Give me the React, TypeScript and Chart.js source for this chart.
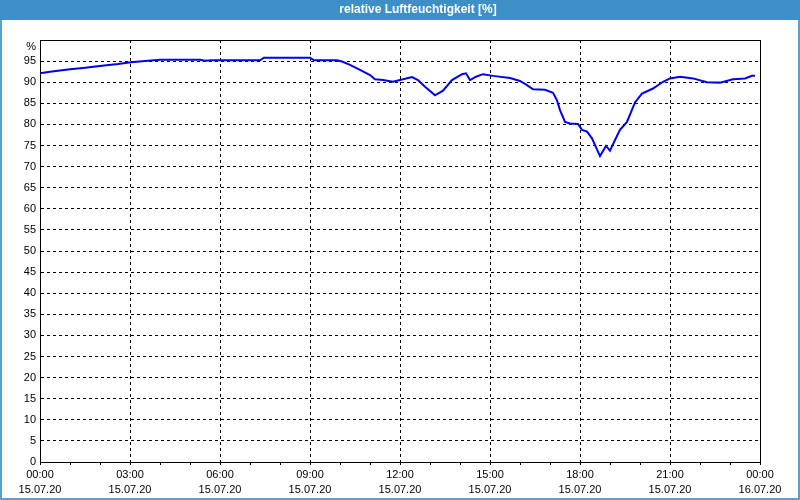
import React, { useEffect, useRef } from "react";
import { Chart, registerables } from "chart.js";

Chart.register(...registerables);

const titleText = "relative Luftfeuchtigkeit [%]";

const sampleTimes = [
  "00:00", "00:20", "00:56", "01:30", "02:04", "02:36", "03:02", "03:30", "04:00", "05:20",
  "05:30", "05:44", "07:20", "07:28", "09:00", "09:08", "09:54", "10:04", "10:20", "10:40",
  "11:00", "11:10", "11:26", "11:46", "12:00", "12:24", "12:36", "12:50", "13:10", "13:26",
  "13:44", "14:04", "14:12", "14:20", "14:32", "14:46", "15:06", "15:40", "16:00", "16:14",
  "16:26", "16:50", "17:06", "17:14", "17:20", "17:30", "17:40", "17:56", "18:04", "18:14",
  "18:24", "18:40", "18:52", "19:00", "19:10", "19:20", "19:34", "19:50", "20:04", "20:26",
  "20:46", "21:00", "21:20", "21:46", "22:14", "22:40", "23:06", "23:30", "23:44", "23:50",
];

const humidity = [
  92.1, 92.5, 93.0, 93.4, 93.9, 94.3, 94.7, 95.0, 95.3, 95.3,
  95.1, 95.2, 95.2, 95.8, 95.8, 95.2, 95.2, 94.9, 94.1, 92.9,
  91.7, 90.7, 90.5, 90.1, 90.5, 91.2, 90.5, 88.9, 86.9, 88.0,
  90.5, 91.9, 92.1, 90.5, 91.3, 91.9, 91.5, 91.0, 90.3, 89.3,
  88.3, 88.2, 87.5, 85.7, 83.4, 80.6, 80.2, 80.1, 78.7, 78.3,
  76.7, 72.5, 74.9, 73.8, 76.3, 78.7, 80.6, 85.2, 87.3, 88.5,
  90.1, 90.9, 91.3, 90.9, 90.0, 89.9, 90.7, 90.9, 91.5, 91.5,
];

const xTickTimes = ["00:00", "03:00", "06:00", "09:00", "12:00", "15:00", "18:00", "21:00", "00:00"];
const xTickDates = ["15.07.20", "15.07.20", "15.07.20", "15.07.20", "15.07.20", "15.07.20", "15.07.20", "15.07.20", "16.07.20"];

const yTopLabel = "%";

const toMinutes = (s: string) => {
  const [h, m] = s.split(":").map(Number);
  return h * 60 + m;
};

const FONT = "'Liberation Sans', Arial, sans-serif";

const framePlugin = {
  id: "frame",
  afterLayout(chart: any) {
    if (chart.titleBlock) {
      chart.titleBlock.left = 36;
    }
  },
  beforeDraw(chart: any) {
    const { ctx, width } = chart;
    ctx.save();
    ctx.fillStyle = "#ffffff";
    ctx.fillRect(0, 0, width, chart.height);
    ctx.fillStyle = "#3d8fc7";
    ctx.fillRect(0, 0, width, 20);
    ctx.restore();
  },
  afterDraw(chart: any) {
    const { ctx, width, height, chartArea } = chart;
    ctx.save();
    ctx.strokeStyle = "#000000";
    ctx.lineWidth = 1;
    const l = Math.round(chartArea.left) + 0.5;
    const t = Math.round(chartArea.top) + 0.5;
    const r = Math.round(chartArea.right) + 0.5;
    const b = Math.round(chartArea.bottom) + 0.5;
    ctx.strokeRect(l, t, r - l, b - t);
    ctx.strokeStyle = "#5a9fd4";
    ctx.lineWidth = 2;
    ctx.beginPath();
    ctx.moveTo(1, 20);
    ctx.lineTo(1, height - 1);
    ctx.lineTo(width - 1, height - 1);
    ctx.lineTo(width - 1, 20);
    ctx.stroke();
    ctx.restore();
  },
};

export default function App() {
  const ref = useRef<HTMLCanvasElement | null>(null);

  useEffect(() => {
    if (!ref.current) return;
    const points = sampleTimes.map((t, i) => ({ x: toMinutes(t), y: humidity[i] }));
    const chart = new Chart(ref.current, {
      type: "line",
      data: {
        datasets: [
          {
            data: points,
            borderColor: "#0000f0",
            borderWidth: 2,
            pointRadius: 0,
            tension: 0,
            fill: false,
          },
        ],
      },
      options: {
        responsive: false,
        animation: false,
        devicePixelRatio: 1,
        layout: { padding: { left: 0, right: 0, top: 0, bottom: 0 } },
        plugins: {
          legend: { display: false },
          tooltip: { enabled: false },
          title: {
            display: true,
            text: titleText,
            color: "#ffffff",
            font: { family: FONT, size: 12, weight: "bold", lineHeight: "14px" },
            padding: { top: 3, bottom: 23 },
          },
        },
        scales: {
          x: {
            type: "linear",
            min: 0,
            max: 1440,
            afterFit: (s: any) => {
              s.height = 38;
              s.paddingRight = 40;
            },
            ticks: {
              stepSize: 60,
              autoSkip: false,
              maxRotation: 0,
              maxTicksLimit: 50,
              padding: 2,
              color: "#000000",
              font: { family: FONT, size: 11, lineHeight: "15px" },
              callback: (v: any) => {
                const n = Number(v);
                if (n % 180 !== 0) return "";
                const i = n / 180;
                return [xTickTimes[i], xTickDates[i]];
              },
            },
            grid: {
              color: (c: any) => (c.tick && c.tick.value % 180 === 0 ? "#000000" : "rgba(0,0,0,0)"),
              tickColor: "#000000",
              lineWidth: 1,
              tickLength: 3,
              tickBorderDash: [],
            },
            border: { display: true, color: "#000000", width: 1, dash: [3, 3] },
          },
          y: {
            min: 0,
            max: 100,
            afterFit: (s: any) => {
              s.width = 40;
            },
            ticks: {
              stepSize: 5,
              autoSkip: false,
              maxTicksLimit: 50,
              padding: 4,
              color: "#000000",
              font: { family: FONT, size: 11 },
              callback: (v: any) => (Number(v) === 100 ? ["", yTopLabel] : String(v)),
            },
            grid: {
              color: "#000000",
              lineWidth: 1,
              drawTicks: false,
            },
            border: { display: true, color: "#000000", width: 1, dash: [3, 3] },
          },
        },
      },
      plugins: [framePlugin],
    });
    return () => chart.destroy();
  }, []);

  return (
    <div style={{ position: "fixed", left: 0, top: 0, width: 800, height: 500 }}>
      <canvas ref={ref} width={800} height={500} style={{ display: "block" }} />
    </div>
  );
}
